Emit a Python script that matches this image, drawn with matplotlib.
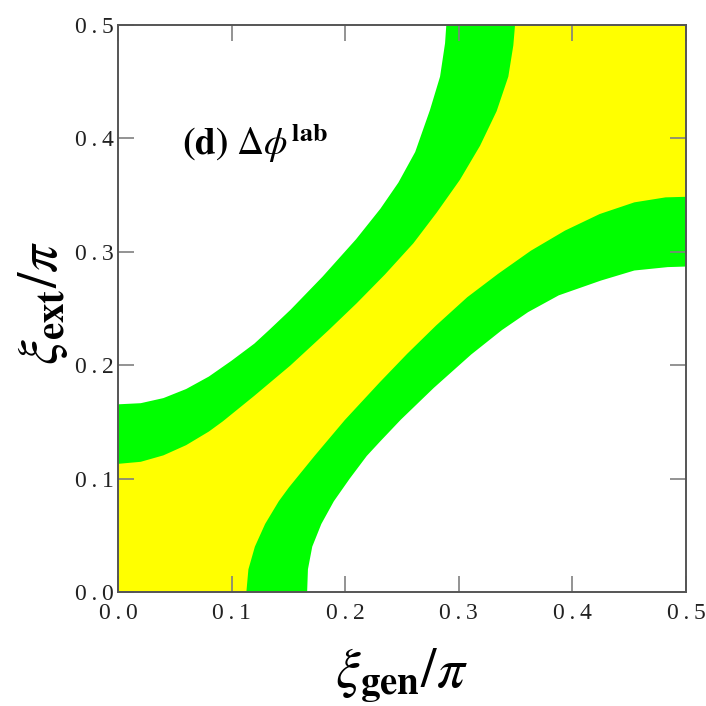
import numpy as np
import matplotlib
matplotlib.use("Agg")
import matplotlib.pyplot as plt

plt.rcParams['font.family'] = ['Liberation Serif', 'DejaVu Serif']
plt.rcParams['mathtext.fontset'] = 'stix'

# boundary curves (x = xi_gen/pi, y = xi_ext/pi)
# upper-left band: outer edge (white/green) and inner edge (green/yellow)
ul_outer_x = [0.000, 0.020, 0.040, 0.060, 0.080, 0.100, 0.120, 0.133, 0.152, 0.180,
              0.2095, 0.231, 0.2468, 0.2616, 0.2746, 0.2835, 0.2879, 0.289]
ul_outer_y = [0.1655, 0.1665, 0.171, 0.179, 0.190, 0.204, 0.219, 0.231, 0.249, 0.278,
              0.311, 0.338, 0.361, 0.388, 0.425, 0.4545, 0.4839, 0.500]
ul_inner_x = [0.000, 0.020, 0.040, 0.060, 0.080, 0.0923, 0.120, 0.1517, 0.185, 0.210,
              0.235, 0.260, 0.2805, 0.301, 0.3187, 0.3333, 0.3436, 0.348, 0.3495]
ul_inner_y = [0.113, 0.1148, 0.1205, 0.1295, 0.1415, 0.1505, 0.173, 0.1997, 0.2305, 0.2545,
              0.280, 0.3075, 0.3345, 0.3635, 0.3935, 0.424, 0.4545, 0.482, 0.500]
# lower-right band: inner edge (yellow/green) and outer edge (green/white)
lr_inner_x = [0.113, 0.1148, 0.1205, 0.1295, 0.1415, 0.1505, 0.173, 0.1997, 0.2305, 0.2545,
              0.280, 0.3075, 0.3345, 0.3635, 0.3935, 0.424, 0.4545, 0.482, 0.500]
lr_inner_y = [0.000, 0.020, 0.040, 0.060, 0.080, 0.0923, 0.120, 0.1517, 0.185, 0.210,
              0.235, 0.260, 0.2805, 0.301, 0.3187, 0.3333, 0.3436, 0.348, 0.3485]
lr_outer_x = [0.1665, 0.1672, 0.171, 0.179, 0.190, 0.204, 0.219, 0.231, 0.249, 0.278,
              0.311, 0.338, 0.361, 0.388, 0.425, 0.4545, 0.4839, 0.500]
lr_outer_y = [0.000, 0.020, 0.040, 0.060, 0.080, 0.100, 0.120, 0.133, 0.152, 0.180,
              0.2095, 0.231, 0.2468, 0.2616, 0.2746, 0.2835, 0.2865, 0.287]

ticks = [0.0, 0.1, 0.2, 0.3, 0.4, 0.5]
tick_labels = ['0\u2009.\u20090', '0\u2009.\u20091', '0\u2009.\u20092',
               '0\u2009.\u20093', '0\u2009.\u20094', '0\u2009.\u20095']

YELLOW = '#ffff00'
GREEN = '#00ff00'

fig = plt.figure(figsize=(7.06, 7.06), dpi=100)
ax = fig.add_axes([118/706, 114/706, 568/706, 567/706])
ax.set_facecolor(YELLOW)

# upper-left corner: green band then white
ax.fill(ul_inner_x + [0.0], ul_inner_y + [0.5], color=GREEN, lw=0)
ax.fill(ul_outer_x + [0.0], ul_outer_y + [0.5], color='white', lw=0)
# lower-right corner
ax.fill(lr_inner_x + [0.5], lr_inner_y + [0.0], color=GREEN, lw=0)
ax.fill(lr_outer_x + [0.5], lr_outer_y + [0.0], color='white', lw=0)

ax.set_xlim(0, 0.5)
ax.set_ylim(0, 0.5)
ax.set_xticks(ticks)
ax.set_yticks(ticks)
ax.set_xticklabels(tick_labels)
ax.set_yticklabels(tick_labels)
ax.tick_params(direction='in', length=11.5, width=1.2, color='#808080',
               top=True, right=True, labelsize=17, labelcolor='#222222')
ax.tick_params(axis='x', pad=8)
ax.tick_params(axis='y', pad=3)
for s in ax.spines.values():
    s.set_color('#555555')
    s.set_linewidth(1.4)

ax.text(0.113, 0.792, r'$\mathbf{(d)}\ \Delta\phi^{\mathbf{lab}}$',
        transform=ax.transAxes, fontsize=27, va='center', ha='left')

fig.text(402/706, 1 - 676/706, r'$\xi_{\mathbf{gen}}/\pi$', fontsize=40,
         ha='center', va='center')
fig.text(43/706, 1 - 303/706, r'$\xi_{\mathbf{ext}}/\pi$', fontsize=40,
         ha='center', va='center', rotation=90)

fig.savefig('out.png', dpi=100)
